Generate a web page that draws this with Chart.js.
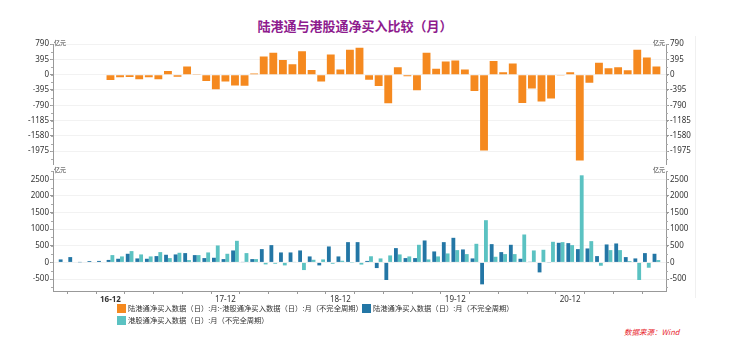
<!DOCTYPE html>
<html><head><meta charset="utf-8">
<script src="https://cdn.jsdelivr.net/npm/chart.js@4"></script>
<style>
body{margin:0;width:732px;height:354px;background:#fff;position:relative;overflow:hidden;font-family:"Noto Sans CJK SC",sans-serif}
#title{position:absolute;top:16px;left:0;width:710px;text-align:center;font:bold 13px "Noto Sans CJK SC";color:#8E1B8E;line-height:20px}
#w1{position:absolute;left:0;top:36px;width:732px;height:134px}
#w2{position:absolute;left:0;top:163px;width:732px;height:143px}
.leg{position:absolute;font:7.3px "Noto Sans CJK SC";color:#333;white-space:nowrap;line-height:10px}
.sw{position:absolute;width:9px;height:9px}
#src{position:absolute;left:624px;top:326px;font:italic 7.5px "Noto Sans CJK SC";color:#e8262d;line-height:12px}
#vl{position:absolute;left:695px;top:36px;width:1px;height:262px;background:#f0f0f0}
</style></head>
<body>
<div id="title">陆港通与港股通净买入比较（月）</div>
<div id="vl"></div>
<div id="w1"><canvas id="c1" width="732" height="134"></canvas></div>
<div id="w2"><canvas id="c2" width="732" height="143"></canvas></div>
<div class="sw" style="left:117px;top:304px;background:#F5891F"></div>
<div class="leg" style="left:128px;top:303px">陆港通净买入数据（日）:月:-港股通净买入数据（日）:月（不完全周期）</div>
<div class="sw" style="left:362px;top:304px;background:#2376A5"></div>
<div class="leg" style="left:373px;top:303px">陆港通净买入数据（日）:月（不完全周期）</div>
<div class="sw" style="left:117px;top:316px;background:#5BC2C2"></div>
<div class="leg" style="left:128px;top:315px">港股通净买入数据（日）:月（不完全周期）</div>
<div id="src">数据来源：Wind</div>
<script>
// ---- data ----
const months = ['16-07','16-08','16-09','16-10','16-11','16-12',
'17-01','17-02','17-03','17-04','17-05','17-06','17-07','17-08','17-09','17-10','17-11','17-12',
'18-01','18-02','18-03','18-04','18-05','18-06','18-07','18-08','18-09','18-10','18-11','18-12',
'19-01','19-02','19-03','19-04','19-05','19-06','19-07','19-08','19-09','19-10','19-11','19-12',
'20-01','20-02','20-03','20-04','20-05','20-06','20-07','20-08','20-09','20-10','20-11','20-12',
'21-01','21-02','21-03','21-04','21-05','21-06','21-07','21-08','21-09'];
// 陆港通净买入 (all months from 16-07)
const northbound = [90,160,5,40,45,75,
110,260,120,110,190,230,240,280,220,130,140,100,
360,10,100,400,520,300,300,360,180,-90,480,180,
610,610,45,-170,-530,430,130,130,660,330,610,740,
390,120,-660,550,310,530,110,20,-300,-10,590,580,
400,420,190,540,570,160,120,280,260];
// 港股通净买入 (from 16-12)
const southStart = '16-12';
const southbound = [220,
180,340,240,180,310,130,290,70,220,300,510,260,
650,280,100,-60,-40,-90,10,-230,80,90,-40,50,
-5,-65,185,120,210,240,180,530,90,180,270,370,
250,560,1270,170,250,250,840,360,380,620,610,520,
2620,640,-100,370,370,40,-530,-160,70];
// 陆港通 - 港股通 (from 16-12)
const diffStart = '16-12';
const diffValues = [-140,
-70,-60,-120,-65,-120,95,-55,210,5,-165,-375,-175,
-280,-285,30,470,565,380,270,600,120,-180,520,130,
640,695,-130,-295,-740,190,-40,-400,565,150,340,365,
130,-425,-1955,350,60,285,-730,-355,-695,-615,-10,60,
-2215,-210,305,165,190,115,640,445,210];
const topTicks = [790,395,0,-395,-790,-1185,-1580,-1975];
const bottomTicks = [2500,2000,1500,1000,500,0,-500];
const unitLabel = '亿元';

// ---- helpers ----
const toPts = (arr, start) => { const s = months.indexOf(start); return arr.map((v,i)=>({x:s+i,y:v})); };
const tickFont = {family:'"Noto Sans", sans-serif', size:8};
function yAxis(pos, ticks, min, max){
  return {
    position: pos, min, max,
    afterBuildTicks: s => { s.ticks = ticks.map(v=>({value:v})); },
    afterFit: s => { s.width = pos==='left' ? 53 : 66; },
    ticks: {font: tickFont, color:'#333', padding:1, autoSkip:false, callback: v => String(v)},
    grid: {color: pos==='left' ? '#f2f2f2' : 'transparent', tickLength:3, tickColor:'#999', drawOnChartArea: pos==='left'},
    border: {color:'#999'}
  };
}
const deco = {
  id:'deco',
  afterDraw(chart){
    const {ctx, chartArea:a} = chart;
    ctx.save();
    ctx.font = '6px "Noto Sans CJK SC"';
    ctx.fillStyle = '#333';
    ctx.textBaseline = 'middle';
    ctx.textAlign = 'left'; ctx.fillText(unitLabel, a.left+1, a.top-1);
    ctx.textAlign = 'right'; ctx.fillText(unitLabel, a.right-1, a.top-1);
    ctx.strokeStyle = '#aaa'; ctx.lineWidth = 1;
    const s = chart.scales.y;
    const t = s.ticks.map(k=>k.value);
    const step = Math.abs(t[0]-t[1]) / 2;
    for (let v = t[t.length-1] - 4*step; v <= s.max; v += step) {
      if (v < s.min) continue;
      const p = Math.round(s.getPixelForValue(v)) + 0.5;
      ctx.beginPath();
      ctx.moveTo(a.left-2, p); ctx.lineTo(a.left, p);
      ctx.moveTo(a.right, p); ctx.lineTo(a.right+2, p);
      ctx.stroke();
    }
    ctx.restore();
  }
};
const xBase = {
  type:'linear', min:-1, max:63, offset:false
};

new Chart(document.getElementById('c1'), {
  type:'bar',
  data:{datasets:[{
    label:'陆港通净买入数据（日）:月:-港股通净买入数据（日）:月（不完全周期）',
    data: toPts(diffValues, diffStart),
    backgroundColor:'#F5891F', borderWidth:0,
    barPercentage:0.82, categoryPercentage:1
  }]},
  options:{
    responsive:false, animation:false,
    layout:{padding:{top:8, bottom:4, left:0, right:0}},
    plugins:{legend:{display:false}, tooltip:{enabled:false}},
    scales:{
      x:{...xBase, display:false},
      y: yAxis('left', topTicks, -2310, 790),
      y2: yAxis('right', topTicks, -2310, 790)
    }
  },
  plugins:[deco]
});

new Chart(document.getElementById('c2'), {
  type:'bar',
  data:{datasets:[
    {label:'陆港通净买入数据（日）:月（不完全周期）', data: toPts(northbound, months[0]),
     backgroundColor:'#2376A5', barPercentage:1, categoryPercentage:0.8},
    {label:'港股通净买入数据（日）:月（不完全周期）', data: toPts(southbound, southStart),
     backgroundColor:'#5BC2C2', barPercentage:1, categoryPercentage:0.8}
  ]},
  options:{
    responsive:false, animation:false,
    layout:{padding:{top:8, bottom:0, left:0, right:0}},
    plugins:{legend:{display:false}, tooltip:{enabled:false}},
    scales:{
      x:{...xBase,
        afterBuildTicks: s => { const t=[]; for(let i=2;i<months.length;i+=3) t.push({value:i}); s.ticks=t; },
        afterFit: s => { s.height = 15; },
        ticks:{autoSkip:false, maxRotation:0, padding:1, color:'#333',
          font: c => ({family:'"Noto Sans", sans-serif', size:8, weight: (c.tick && c.tick.value===5) ? 'bold' : 'normal'}),
          callback: v => months[v] && months[v].endsWith('-12') ? months[v] : ''},
        grid:{drawOnChartArea:false, tickLength:3, tickColor:'#999'},
        border:{color:'#999'}
      },
      y: yAxis('left', bottomTicks, -860, 2750),
      y2: yAxis('right', bottomTicks, -860, 2750)
    }
  },
  plugins:[deco]
});
</script>
</body></html>
